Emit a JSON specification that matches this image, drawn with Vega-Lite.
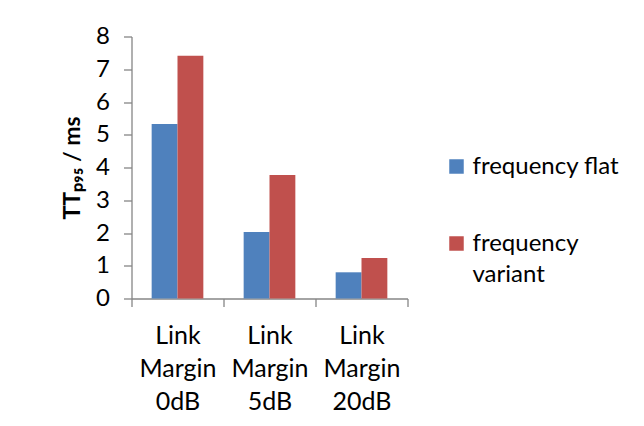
{
  "$schema": "https://vega.github.io/schema/vega-lite/v6.json",
  "width": 276,
  "height": 262,
  "autosize": "none",
  "padding": {"left": 131.5, "top": 36.5, "right": 236.5, "bottom": 127.5},
  "background": "white",
  "data": {
    "values": [
      {"cat": "Link Margin 0dB", "series": "frequency flat", "value": 5.33},
      {"cat": "Link Margin 0dB", "series": "frequency variant", "value": 7.41},
      {"cat": "Link Margin 5dB", "series": "frequency flat", "value": 2.03},
      {"cat": "Link Margin 5dB", "series": "frequency variant", "value": 3.77},
      {"cat": "Link Margin 20dB", "series": "frequency flat", "value": 0.8},
      {"cat": "Link Margin 20dB", "series": "frequency variant", "value": 1.24}
    ]
  },
  "mark": {"type": "bar"},
  "encoding": {
    "x": {
      "field": "cat",
      "type": "nominal",
      "sort": null,
      "scale": {"paddingInner": 0, "paddingOuter": 0},
      "axis": {
        "title": null,
        "labelAngle": 0,
        "tickBand": "extent",
        "labelExpr": "split(datum.label, ' ')",
        "labelFont": "Lato",
        "labelFontSize": 25,
        "labelLineHeight": 33,
        "labelColor": "black",
        "labelPadding": 17,
        "domainColor": "#868686",
        "tickColor": "#868686",
        "tickSize": 8,
        "domainWidth": 1.3,
        "tickWidth": 1.3
      }
    },
    "xOffset": {
      "field": "series",
      "type": "nominal",
      "scale": {"paddingInner": 0, "paddingOuter": 0.78}
    },
    "y": {
      "field": "value",
      "type": "quantitative",
      "scale": {"domain": [0, 8], "nice": false},
      "axis": {
        "title": "TTₚ₉₅ / ms",
        "titleFont": "Lato",
        "titleFontSize": 23,
        "titleFontWeight": "bold",
        "titleColor": "black",
        "titlePadding": 11,
        "values": [0, 1, 2, 3, 4, 5, 6, 7, 8],
        "grid": false,
        "labelFont": "Lato",
        "labelFontSize": 24,
        "labelColor": "black",
        "labelPadding": 14,
        "domainColor": "#868686",
        "tickColor": "#868686",
        "tickSize": 8,
        "domainWidth": 1.3,
        "tickWidth": 1.3
      }
    },
    "color": {
      "field": "series",
      "type": "nominal",
      "scale": {"domain": ["frequency flat", "frequency variant"], "range": ["#4F81BD", "#C0504D"]},
      "legend": {
        "title": null,
        "orient": "none",
        "legendX": 313,
        "legendY": 118,
        "symbolType": "square",
        "symbolSize": 210,
        "symbolStrokeWidth": 0,
        "labelFont": "Lato",
        "labelFontSize": 24,
        "labelColor": "black",
        "labelOffset": 4,
        "labelLimit": 300,
        "rowPadding": 53,
        "labelExpr": "datum.label == 'frequency variant' ? ['frequency', 'variant'] : datum.label",
        "encode": {"labels": {"update": {"lineHeight": {"value": 31}}}}
      }
    }
  },
  "config": {"view": {"stroke": null}}
}
